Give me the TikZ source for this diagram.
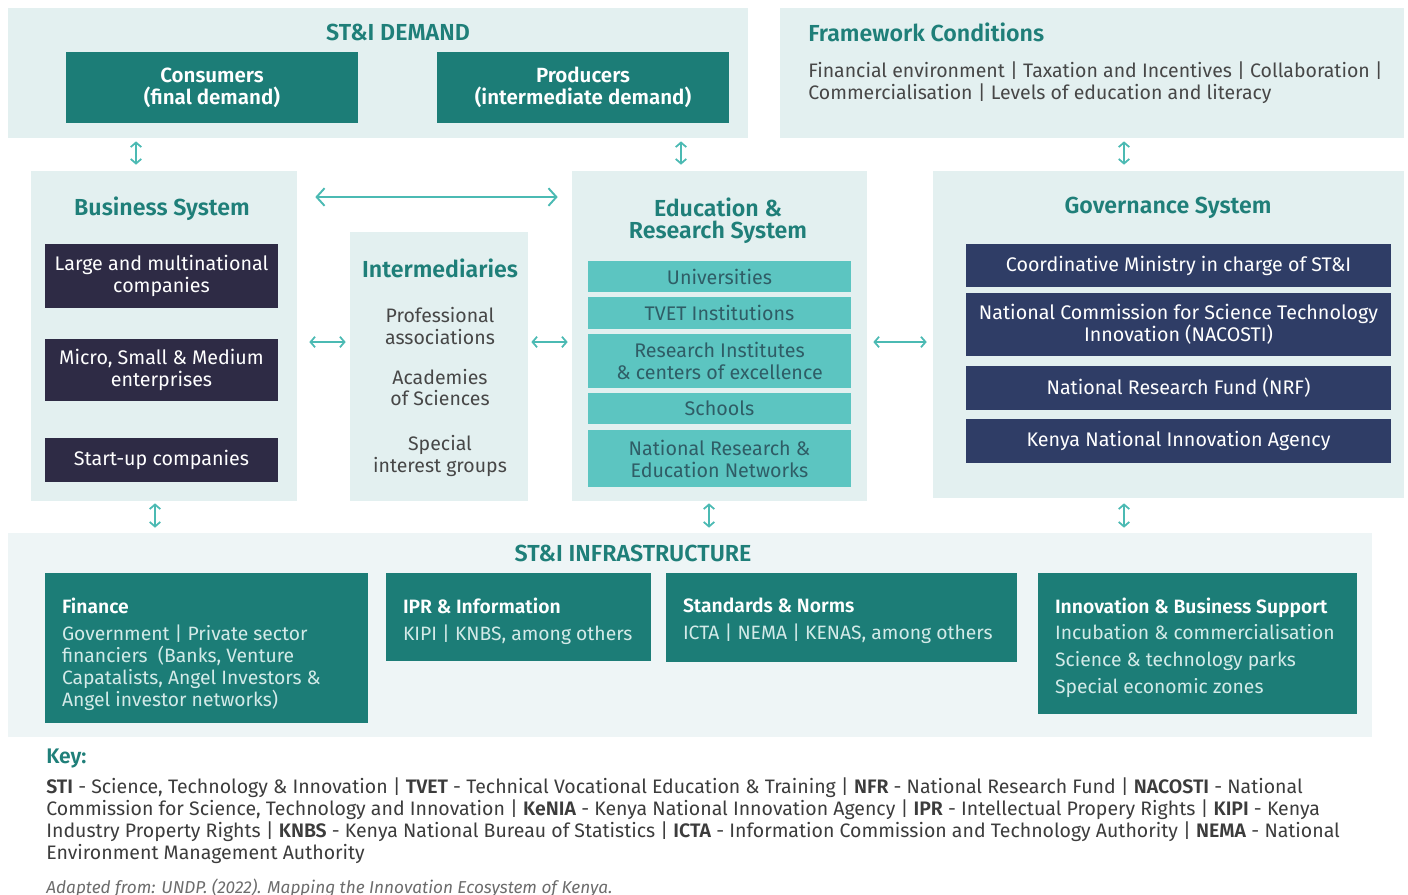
\documentclass[tikz,border=0pt]{standalone}
\usepackage{fontspec}
\setmainfont{Fira Sans}[BoldFont={* SemiBold}]
\usetikzlibrary{arrows.meta,calc}

\definecolor{panelc}{HTML}{E3F0F0}
\definecolor{infrac}{HTML}{EEF5F6}
\definecolor{titlec}{HTML}{1F7F79}
\definecolor{tealc}{HTML}{1C7D77}
\definecolor{darkc}{HTML}{2E2B45}
\definecolor{navyc}{HTML}{2F3D66}
\definecolor{lightc}{HTML}{5CC5C1}
\definecolor{lighttext}{HTML}{2F5D66}
\definecolor{arrowc}{HTML}{4BBAB3}
\definecolor{bodyc}{HTML}{474747}
\definecolor{softw}{HTML}{D3EAE8}

\tikzset{
  panel/.style={fill=panelc, draw=none, inner sep=0pt},
  heading/.style={text=titlec, font=\fontsize{13.2}{15}\selectfont\bfseries, inner sep=0pt, align=center},
  tealbox/.style={fill=tealc, text=white, font=\fontsize{11.7}{12.5}\selectfont\bfseries, align=center, inner sep=0pt},
  darkbox/.style={fill=darkc, text=white, font=\fontsize{11.2}{12.5}\selectfont, align=center, inner sep=0pt},
  navybox/.style={fill=navyc, text=white, font=\fontsize{11.2}{12.5}\selectfont, align=center, inner sep=0pt},
  lightbox/.style={fill=lightc, text=lighttext, font=\fontsize{11.2}{12.5}\selectfont, align=center, inner sep=0pt},
  infrabox/.style={fill=tealc, inner sep=0pt},
  infratext/.style={text=softw, font=\fontsize{11}{12.5}\selectfont, align=left, inner sep=0pt, anchor=north west},
  bodytext/.style={text=bodyc, font=\fontsize{11.1}{12.5}\selectfont, inner sep=0pt},
  link/.style={draw=arrowc, line width=1pt, {Straight Barb[length=2.6pt,width=6pt]}-{Straight Barb[length=2.6pt,width=6pt]}},
  longlink/.style={draw=arrowc, line width=1.1pt, {Straight Barb[length=4.5pt,width=10pt]}-{Straight Barb[length=4.5pt,width=10pt]}},
}

\begin{document}
\begin{tikzpicture}[x=0.02cm, y=-0.02cm]
\useasboundingbox (0,0) rectangle (1408,894);

% ---------- top row: demand and framework conditions ----------
\node[panel, minimum width=14.8cm, minimum height=2.6cm] (demand) at (378,73) {};
\node[heading] (demandT) at (398,32) {ST\&I DEMAND};
\node[tealbox, minimum width=5.84cm, minimum height=1.42cm] (cons) at (212,87.5) {Consumers\\(final demand)};
\node[tealbox, minimum width=5.84cm, minimum height=1.42cm] (prod) at (583,87.5) {Producers\\(intermediate demand)};

\node[panel, minimum width=12.48cm, minimum height=2.6cm] (frame) at (1092,73) {};
\node[heading, anchor=west] (frameT) at (808,32) {Framework Conditions};
\node[bodytext, anchor=west, align=left] (frameB) at (808,83)
  {Financial environment | Taxation and Incentives | Collaboration |\\Commercialisation | Levels of education and literacy};

% ---------- middle row: the four systems ----------
\node[panel, minimum width=5.32cm, minimum height=6.6cm] (business) at (164,336) {};
\node[heading] (businessT) at (162,209) {Business System};
\node[darkbox, minimum width=4.66cm, minimum height=1.28cm] (large) at (161.5,276) {Large and multinational\\companies};
\node[darkbox, minimum width=4.66cm, minimum height=1.24cm] (micro) at (161.5,370) {Micro, Small \& Medium\\enterprises};
\node[darkbox, minimum width=4.66cm, minimum height=0.88cm] (startup) at (161.5,460) {Start-up companies};

\node[panel, minimum width=3.56cm, minimum height=5.38cm] (inter) at (439,366.5) {};
\node[heading] (interT) at (440,268) {Intermediaries};
\node[bodytext, align=center] (prof) at (440,326) {Professional\\associations};
\node[bodytext, align=center] (acad) at (440,387.5) {Academies\\of Sciences};
\node[bodytext, align=center] (spec) at (440,456) {Special\\interest groups};

\node[panel, minimum width=5.9cm, minimum height=6.6cm] (edu) at (719.5,336) {};
\node[heading, font=\fontsize{13.2}{12.5}\selectfont\bfseries] (eduT) at (718,221) {Education \&\\Research System};
\node[lightbox, minimum width=5.26cm, minimum height=0.62cm] (univ) at (719.5,276.5) {Universities};
\node[lightbox, minimum width=5.26cm, minimum height=0.64cm] (tvet) at (719.5,313) {TVET Institutions};
\node[lightbox, minimum width=5.26cm, minimum height=1.08cm] (resinst) at (719.5,361) {Research Institutes\\\& centers of excellence};
\node[lightbox, minimum width=5.26cm, minimum height=0.62cm] (schools) at (719.5,408.5) {Schools};
\node[lightbox, minimum width=5.26cm, minimum height=1.14cm] (nren) at (719.5,458.5) {National Research \&\\Education Networks};

\node[panel, minimum width=9.42cm, minimum height=6.54cm] (gov) at (1168.5,334.5) {};
\node[heading] (govT) at (1168,208) {Governance System};
\node[navybox, minimum width=8.5cm, minimum height=0.86cm] (coord) at (1178.5,265.5) {Coordinative Ministry in charge of ST\&I};
\node[navybox, minimum width=8.5cm, minimum height=1.26cm] (nacosti) at (1178.5,324.5) {National Commission for Science Technology\\Innovation (NACOSTI)};
\node[navybox, minimum width=8.5cm, minimum height=0.88cm] (nrf) at (1178.5,388) {National Research Fund (NRF)};
\node[navybox, minimum width=8.5cm, minimum height=0.88cm] (kenia) at (1178.5,441) {Kenya National Innovation Agency};

% ---------- bottom row: infrastructure ----------
\node[panel, fill=infrac, minimum width=27.28cm, minimum height=4.08cm] (infra) at (690,635) {};
\node[heading] (infraT) at (633,553) {ST\&I INFRASTRUCTURE};

\node[infrabox, minimum width=6.46cm, minimum height=3.0cm] (finance) at (206.5,648) {};
\node[infratext] (financeT) at ([shift={(17,25)}]finance.north west)
  {\textcolor{white}{\bfseries Finance}\\[3pt]Government | Private sector\\financiers\ \ (Banks, Venture\\Capatalists, Angel Investors \&\\Angel investor networks)};

\node[infrabox, minimum width=5.3cm, minimum height=1.76cm] (ipr) at (518.5,617) {};
\node[infratext] (iprT) at ([shift={(17,25)}]ipr.north west)
  {\textcolor{white}{\bfseries IPR \& Information}\\[3pt]KIPI | KNBS, among others};

\node[infrabox, minimum width=7.02cm, minimum height=1.78cm] (std) at (841.5,617.5) {};
\node[infratext] (stdT) at ([shift={(17,25)}]std.north west)
  {\textcolor{white}{\bfseries Standards \& Norms}\\[3pt]ICTA | NEMA | KENAS, among others};

\node[infrabox, minimum width=6.38cm, minimum height=2.82cm] (innov) at (1197.5,643.5) {};
\node[infratext, font=\fontsize{11}{15.3}\selectfont] (innovT) at ([shift={(17,25)}]innov.north west)
  {\textcolor{white}{\bfseries Innovation \& Business Support}\\[-0.5pt]Incubation \& commercialisation\\Science \& technology parks\\Special economic zones};

% ---------- connectors ----------
\coordinate (xa) at (136,0);
\coordinate (xb) at (681,0);
\coordinate (xc) at (1124,0);
\coordinate (xd) at (155,0);
\coordinate (xe) at (709,0);
\coordinate (ya) at (0,342);
\coordinate (yb) at (0,197);

\draw[link, shorten <=0.06cm, shorten >=0.12cm] (demand.south -| xa) -- (business.north -| xa);
\draw[link, shorten <=0.06cm, shorten >=0.12cm] (demand.south -| xb) -- (edu.north -| xb);
\draw[link, shorten <=0.06cm, shorten >=0.12cm] (frame.south -| xc) -- (gov.north -| xc);

\draw[link, shorten <=0.04cm, shorten >=0.1cm] (business.south -| xd) -- (infra.north -| xd);
\draw[link, shorten <=0.04cm, shorten >=0.1cm] (edu.south -| xe) -- (infra.north -| xe);
\draw[link, shorten <=0.1cm, shorten >=0.1cm] (gov.south -| xc) -- (infra.north -| xc);

\draw[link, shorten <=0.24cm, shorten >=0.08cm] (business.east |- ya) -- (inter.west |- ya);
\draw[link, shorten <=0.06cm, shorten >=0.08cm] (inter.east |- ya) -- (edu.west |- ya);
\draw[link, shorten <=0.12cm, shorten >=0.12cm] (edu.east |- ya) -- (gov.west |- ya);

\draw[longlink, shorten <=0.36cm, shorten >=0.28cm] (business.east |- yb) -- (edu.west |- yb);

% ---------- key and source ----------
\node[heading, anchor=west, font=\fontsize{12}{14}\selectfont\bfseries] (keyT) at (46,759) {Key:};
\node[anchor=north west, inner sep=0pt, align=left, text=bodyc!85!black, font=\fontsize{11.1}{12.5}\selectfont] (keyB) at (46,777)
  {\textbf{STI} - Science, Technology \& Innovation | \textbf{TVET} - Technical Vocational Education \& Training | \textbf{NFR} - National Research Fund | \textbf{NACOSTI} - National\\
   Commission for Science, Technology and Innovation | \textbf{KeNIA} - Kenya National Innovation Agency | \textbf{IPR} - Intellectual Propery Rights | \textbf{KIPI} - Kenya\\
   Industry Property Rights | \textbf{KNBS} - Kenya National Bureau of Statistics | \textbf{ICTA} - Information Commission and Technology Authority | \textbf{NEMA} - National\\
   Environment Management Authority};
\node[anchor=west, inner sep=0pt, text=bodyc!80, font=\fontsize{9.8}{11}\selectfont\itshape] (src) at (46,888)
  {Adapted from: UNDP. (2022). Mapping the Innovation Ecosystem of Kenya.};
\end{tikzpicture}
\end{document}
